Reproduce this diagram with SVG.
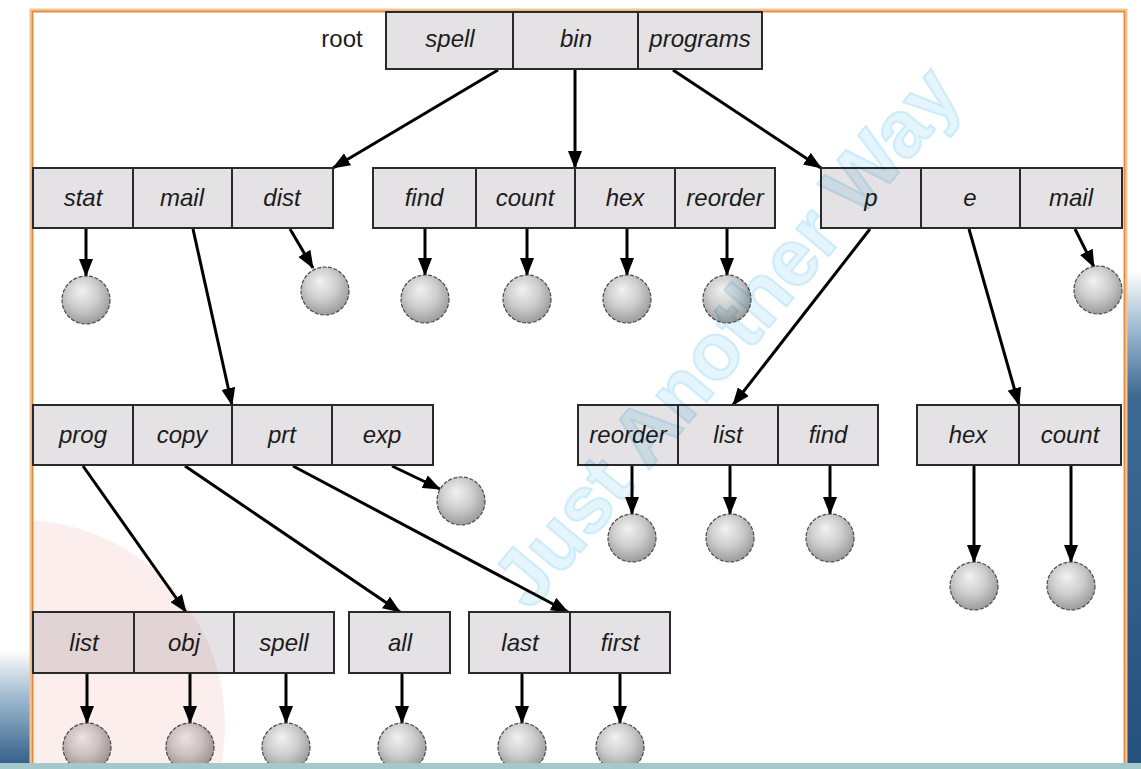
<svg xmlns="http://www.w3.org/2000/svg" width="1141" height="769" viewBox="0 0 1141 769">
  <defs>
    <style>
      .cell { fill: #e4e2e4; stroke: #2a2a2a; stroke-width: 2; }
      .lbl { font-family: "Liberation Sans", Arial, Helvetica, sans-serif; font-size: 24px; font-style: italic; fill: #1c1c1c; text-anchor: middle; }
      .plain { font-family: "Liberation Sans", Arial, Helvetica, sans-serif; font-size: 24px; fill: #1c1c1c; text-anchor: middle; }
      .file { fill: url(#ball); stroke: #4a4a4a; stroke-width: 1.2; stroke-dasharray: 4 1.5; }
      .edge { fill: none; stroke: #000; stroke-width: 3; marker-end: url(#head); }
      .overlay { mix-blend-mode: multiply; }
      .mark { font-family: "Liberation Sans", Arial, sans-serif; font-weight: bold; font-size: 80px; fill: #d2effc; stroke: #a6dcf3; stroke-width: 2; opacity: 0.6; }
    </style>
    <marker id="head" viewBox="0 0 18 14" refX="17" refY="7" markerWidth="18" markerHeight="14" markerUnits="userSpaceOnUse" orient="auto">
      <path d="M0,0 L18,7 L0,14 z" fill="#000"/>
    </marker>
    <radialGradient id="ball" cx="45%" cy="40%" r="60%" fx="40%" fy="30%">
      <stop offset="0" stop-color="#f2f2f2"/>
      <stop offset="0.55" stop-color="#cdcdcd"/>
      <stop offset="1" stop-color="#9c9c9c"/>
    </radialGradient>
    <linearGradient id="rightBand" x1="0" y1="0" x2="0" y2="1">
      <stop offset="0" stop-color="#ffffff"/>
      <stop offset="0.12" stop-color="#9db8cf"/>
      <stop offset="0.25" stop-color="#3f6b93"/>
      <stop offset="1" stop-color="#24507c"/>
    </linearGradient>
    <linearGradient id="leftBand" x1="0" y1="0" x2="0" y2="1">
      <stop offset="0" stop-color="#ffffff"/>
      <stop offset="0.4" stop-color="#9fb9cf"/>
      <stop offset="1" stop-color="#2c5a86"/>
    </linearGradient>
    <clipPath id="inside">
      <rect x="33" y="12" width="1092" height="751"/>
    </clipPath>
  </defs>

  <!-- page background and side bands -->
  <rect x="0" y="0" width="1141" height="769" fill="#ffffff"/>
  <rect x="1127" y="270" width="14" height="499" fill="url(#rightBand)"/>
  <rect x="0" y="650" width="31" height="119" fill="url(#leftBand)"/>

  <!-- frame -->
  <rect x="31.5" y="10.5" width="1094" height="760" fill="#ffffff" stroke="#f3c495" stroke-width="4"/>
  <rect x="32.5" y="11.5" width="1092" height="760" fill="none" stroke="#e08a3c" stroke-width="1.5"/>

  <!-- connectors -->
  <g id="connectors">
    <line class="edge" x1="498" y1="70" x2="333" y2="168"/>
    <line class="edge" x1="575" y1="70" x2="575" y2="168"/>
    <line class="edge" x1="673" y1="70" x2="821" y2="168"/>

    <line class="edge" x1="86" y1="229" x2="86" y2="276"/>
    <line class="edge" x1="193" y1="229" x2="232" y2="405"/>
    <line class="edge" x1="290" y1="229" x2="313" y2="268"/>
    <line class="edge" x1="425" y1="229" x2="425" y2="275"/>
    <line class="edge" x1="527" y1="229" x2="527" y2="275"/>
    <line class="edge" x1="627" y1="229" x2="627" y2="275"/>
    <line class="edge" x1="727" y1="229" x2="727" y2="275"/>
    <line class="edge" x1="870" y1="229" x2="733" y2="405"/>
    <line class="edge" x1="969" y1="229" x2="1019" y2="405"/>
    <line class="edge" x1="1075" y1="229" x2="1094" y2="267"/>

    <line class="edge" x1="83" y1="466" x2="186" y2="612"/>
    <line class="edge" x1="185" y1="466" x2="400" y2="612"/>
    <line class="edge" x1="293" y1="466" x2="568" y2="612"/>
    <line class="edge" x1="392" y1="466" x2="440" y2="489"/>
    <line class="edge" x1="632" y1="466" x2="632" y2="514"/>
    <line class="edge" x1="730" y1="466" x2="730" y2="514"/>
    <line class="edge" x1="830" y1="466" x2="830" y2="514"/>
    <line class="edge" x1="974" y1="466" x2="974" y2="562"/>
    <line class="edge" x1="1071" y1="466" x2="1071" y2="562"/>

    <line class="edge" x1="87" y1="674" x2="87" y2="723"/>
    <line class="edge" x1="190" y1="674" x2="190" y2="723"/>
    <line class="edge" x1="286" y1="674" x2="286" y2="723"/>
    <line class="edge" x1="402" y1="674" x2="402" y2="723"/>
    <line class="edge" x1="522" y1="674" x2="522" y2="723"/>
    <line class="edge" x1="620" y1="674" x2="620" y2="723"/>
  </g>

  <!-- root directory -->
  <g id="dir-root">
    <text class="plain" x="342" y="47">root</text>
    <rect class="cell" x="386" y="12" width="127" height="57"/>
    <rect class="cell" x="513" y="12" width="125" height="57"/>
    <rect class="cell" x="638" y="12" width="124" height="57"/>
    <text class="lbl" x="450" y="47">spell</text>
    <text class="lbl" x="576" y="47">bin</text>
    <text class="lbl" x="700" y="47">programs</text>
  </g>

  <!-- spell directory -->
  <g id="dir-spell">
    <rect class="cell" x="33" y="168" width="100" height="60"/>
    <rect class="cell" x="133" y="168" width="99" height="60"/>
    <rect class="cell" x="232" y="168" width="101" height="60"/>
    <text class="lbl" x="83" y="206">stat</text>
    <text class="lbl" x="182" y="206">mail</text>
    <text class="lbl" x="282" y="206">dist</text>
  </g>

  <!-- bin directory -->
  <g id="dir-bin">
    <rect class="cell" x="373" y="168" width="103" height="60"/>
    <rect class="cell" x="476" y="168" width="99" height="60"/>
    <rect class="cell" x="575" y="168" width="100" height="60"/>
    <rect class="cell" x="675" y="168" width="100" height="60"/>
    <text class="lbl" x="424" y="206">find</text>
    <text class="lbl" x="525" y="206">count</text>
    <text class="lbl" x="625" y="206">hex</text>
    <text class="lbl" x="725" y="206">reorder</text>
  </g>

  <!-- programs directory -->
  <g id="dir-programs">
    <rect class="cell" x="821" y="168" width="100" height="60"/>
    <rect class="cell" x="921" y="168" width="99" height="60"/>
    <rect class="cell" x="1020" y="168" width="102" height="60"/>
    <text class="lbl" x="871" y="206">p</text>
    <text class="lbl" x="970" y="206">e</text>
    <text class="lbl" x="1071" y="206">mail</text>
  </g>

  <!-- mail directory -->
  <g id="dir-mail">
    <rect class="cell" x="33" y="405" width="100" height="60"/>
    <rect class="cell" x="133" y="405" width="99" height="60"/>
    <rect class="cell" x="232" y="405" width="100" height="60"/>
    <rect class="cell" x="332" y="405" width="101" height="60"/>
    <text class="lbl" x="83" y="443">prog</text>
    <text class="lbl" x="182" y="443">copy</text>
    <text class="lbl" x="282" y="443">prt</text>
    <text class="lbl" x="382" y="443">exp</text>
  </g>

  <!-- p directory -->
  <g id="dir-p">
    <rect class="cell" x="578" y="405" width="100" height="60"/>
    <rect class="cell" x="678" y="405" width="100" height="60"/>
    <rect class="cell" x="778" y="405" width="100" height="60"/>
    <text class="lbl" x="628" y="443">reorder</text>
    <text class="lbl" x="728" y="443">list</text>
    <text class="lbl" x="828" y="443">find</text>
  </g>

  <!-- e directory -->
  <g id="dir-e">
    <rect class="cell" x="917" y="405" width="102" height="60"/>
    <rect class="cell" x="1019" y="405" width="102" height="60"/>
    <text class="lbl" x="968" y="443">hex</text>
    <text class="lbl" x="1070" y="443">count</text>
  </g>

  <!-- prog directory -->
  <g id="dir-prog">
    <rect class="cell" x="33" y="612" width="101" height="61"/>
    <rect class="cell" x="134" y="612" width="100" height="61"/>
    <rect class="cell" x="234" y="612" width="100" height="61"/>
    <text class="lbl" x="84" y="651">list</text>
    <text class="lbl" x="184" y="651">obj</text>
    <text class="lbl" x="284" y="651">spell</text>
  </g>

  <!-- copy directory -->
  <g id="dir-copy">
    <rect class="cell" x="349" y="612" width="101" height="61"/>
    <text class="lbl" x="400" y="651">all</text>
  </g>

  <!-- prt directory -->
  <g id="dir-prt">
    <rect class="cell" x="469" y="612" width="101" height="61"/>
    <rect class="cell" x="570" y="612" width="100" height="61"/>
    <text class="lbl" x="520" y="651">last</text>
    <text class="lbl" x="620" y="651">first</text>
  </g>

  <!-- files (leaves) -->
  <g id="files">
    <circle id="f-stat" class="file" cx="86" cy="300" r="24"/>
    <circle id="f-dist" class="file" cx="325" cy="291" r="24"/>
    <circle id="f-find" class="file" cx="425" cy="299" r="24"/>
    <circle id="f-count" class="file" cx="527" cy="299" r="24"/>
    <circle id="f-hex" class="file" cx="627" cy="299" r="24"/>
    <circle id="f-reorder" class="file" cx="727" cy="299" r="24"/>
    <circle id="f-mail" class="file" cx="1098" cy="290" r="24"/>

    <circle id="f-exp" class="file" cx="461" cy="501" r="24"/>
    <circle id="f-p-reorder" class="file" cx="632" cy="538" r="24"/>
    <circle id="f-p-list" class="file" cx="730" cy="538" r="24"/>
    <circle id="f-p-find" class="file" cx="830" cy="538" r="24"/>
    <circle id="f-e-hex" class="file" cx="974" cy="586" r="24"/>
    <circle id="f-e-count" class="file" cx="1071" cy="586" r="24"/>

    <circle id="f-list" class="file" cx="87" cy="747" r="24"/>
    <circle id="f-obj" class="file" cx="190" cy="747" r="24"/>
    <circle id="f-spell" class="file" cx="286" cy="747" r="24"/>
    <circle id="f-all" class="file" cx="402" cy="747" r="24"/>
    <circle id="f-last" class="file" cx="522" cy="747" r="24"/>
    <circle id="f-first" class="file" cx="620" cy="747" r="24"/>
  </g>

  <!-- translucent overlay mark, multiplied so dark strokes stay dark -->
  <g class="overlay" clip-path="url(#inside)">
    <circle cx="20" cy="725" r="205" fill="#fdeeee"/>
    <text class="mark" transform="translate(530 612) rotate(-50)">Just Another Way</text>
  </g>

  <!-- bottom strip -->
  <rect x="0" y="763" width="1141" height="6" fill="#a3c9cb"/>
</svg>
